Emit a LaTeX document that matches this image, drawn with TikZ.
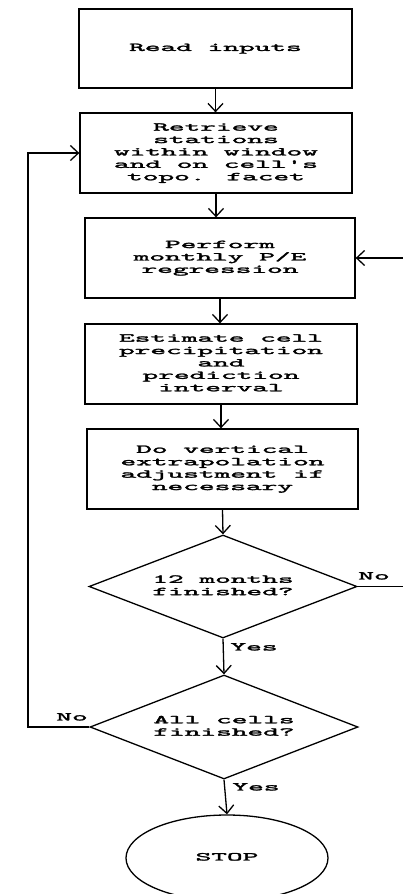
\documentclass[tikz,border=0pt]{standalone}
\usepackage{fontspec}
\newfontfamily\cour{lmmono10-regular.otf}[FakeBold=1.8]
\usetikzlibrary{shapes.geometric,arrows.meta}
\newcommand{\lbl}[1]{\scalebox{2.49}[1]{\begin{tabular}{@{}c@{}}#1\end{tabular}}}
\begin{document}
\begin{tikzpicture}[x=1pt,y=-1pt,
  txt/.style={font=\cour\fontsize{12}{12.4}\selectfont, inner sep=0pt},
  procbox/.style={txt, draw, line width=1.3pt, minimum height=80pt},
  decision/.style={txt, draw, diamond, line width=1.3pt, shape aspect=2.6, minimum width=268pt, minimum height=103pt},
  terminal/.style={txt, draw, ellipse, line width=1.3pt, minimum width=202pt, minimum height=86pt},
  flow/.style={line width=1.3pt, -{Straight Barb[length=8pt,width=15pt,line width=1.3pt]}}]
\useasboundingbox (0,0) rectangle (403,894);
\clip (0,0) rectangle (403,894);
\fill[white] (0,0) rectangle (403,894);

\node[procbox, minimum width=273pt, minimum height=79pt] (read) at (215.5,48.5) {\lbl{Read inputs}};
\node[procbox, minimum width=272pt] (retr) at (216,153) {\lbl{Retrieve\\stations\\within window\\and on cell's\\topo. facet}};
\node[procbox, minimum width=270pt] (regr) at (220,258) {\lbl{Perform\\monthly P/E\\regression}};
\node[procbox, minimum width=272pt] (est) at (221,364) {\lbl{Estimate cell\\precipitation\\and\\prediction\\interval}};
\node[procbox, minimum width=271pt] (vert) at (222.5,469) {\lbl{Do vertical\\extrapolation\\adjustment if\\necessary}};
\node[decision] (months) at (223,586.5) {\lbl{12 months\\finished?}};
\node[decision, minimum height=104pt] (cells) at (224,727) {\lbl{All cells\\finished?}};
\node[terminal] (stop) at (227,858) {\lbl{STOP}};

\coordinate (rtop) at (404,258);
\coordinate (rbot) at (404,586.5);
\coordinate (ltop) at (28,153);
\coordinate (lbot) at (28,727);

\draw[flow] (read.south) -- (read.south |- retr.north);
\draw[flow] (retr.south) -- (retr.south |- regr.north);
\draw[flow] (regr.south) -- (regr.south |- est.north);
\draw[flow] (est.south) -- (est.south |- vert.north);
\draw[flow] (vert.south) -- (months.north);
\draw[flow] (months.south) -- (cells.north);
\draw[flow] (cells.south) -- (stop.north);
\draw[flow] (months.east) -- (rbot) -- (rtop) -- (regr.east);
\draw[flow] (cells.west) -- (lbot) -- (ltop) -- (retr.west);

\node[txt] (no1) at (374,577) {\lbl{No}};
\node[txt] (no2) at (72,718) {\lbl{No}};
\node[txt] (yes1) at (254,648) {\lbl{Yes}};
\node[txt] (yes2) at (256,788) {\lbl{Yes}};
\end{tikzpicture}
\end{document}
